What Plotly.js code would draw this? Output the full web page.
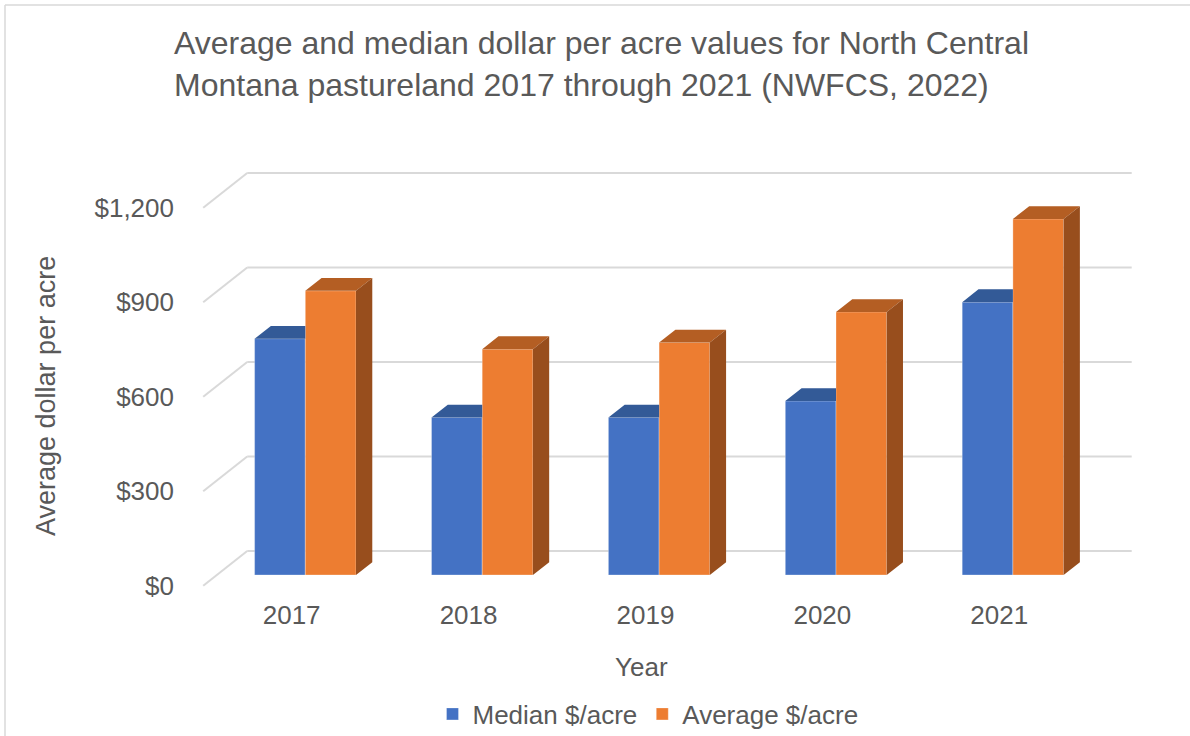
<!DOCTYPE html>
<html>
<head>
<meta charset="utf-8">
<script src="https://cdn.plot.ly/plotly-3.0.1.min.js"></script>
<style>
  html, body { margin: 0; padding: 0; background: #fff; }
  #chart { width: 1190px; height: 736px; }
</style>
</head>
<body>
<div id="chart"></div>
<script>
// data
const years = ["2017", "2018", "2019", "2020", "2021"];
const median = [750, 500, 500, 552, 866];
const average = [902, 717, 738, 835, 1130];
const yTicks = [0, 300, 600, 900, 1200];

// fake 3D: oblique projection, everything expressed in the bar front plane
const W = 1190, H = 736;
const L = 190, R = 1150, T = 140, B = 597;  // plot area in px
const unitPx = 176.9;      // px per category
const dollarPx = 0.315;    // px per dollar
const originX = 305.3, originY = 575;  // category 0 / $0 on bar front face
const depthX = 44, depthY = 34.7;      // floor depth in px
const barFront = 0.31, barBack = 0.68; // bar position in depth (0 front, 1 back)
const barW = 50.7 / unitPx;

function sx(t) { return (t - barFront) * depthX / unitPx; }
function sy(t) { return (t - barFront) * depthY / dollarPx; }
function P(xc, v, t) { return [xc + sx(t), v + sy(t)]; }
function px2paperX(px) { return (px - L) / (R - L); }
function px2paperY(py) { return (B - py) / (B - T); }

let idx = years.map((y, i) => i);
let ddx = sx(barBack) - sx(barFront);
let ddy = sy(barBack) - sy(barFront);

// median tops, clipped where the average bar stands in front
let medTopX = [], medTopY = [];
idx.forEach(i => {
  let x0 = i - barW, x1 = i, v = median[i];
  medTopX.push(x0, x1, x1, x0 + ddx, x0, null);
  medTopY.push(v, v, v + ddy, v + ddy, v, null);
});

let avgTopX = [], avgTopY = [], avgSideX = [], avgSideY = [];
idx.forEach(i => {
  let x0 = i, x1 = i + barW, v = average[i];
  avgTopX.push(x0, x1, x1 + ddx, x0 + ddx, x0, null);
  avgTopY.push(v, v, v + ddy, v + ddy, v, null);
  avgSideX.push(x1, x1, x1 + ddx, x1 + ddx, x1, null);
  avgSideY.push(0, v, v + ddy, ddy, 0, null);
});

let traces = [
  {
    type: "bar", name: "Median $/acre", x: idx, y: median,
    width: barW, offset: -barW,
    marker: { color: "#4472C4", line: { color: "rgba(255,255,255,0.5)", width: 0.6 } },
    hovertemplate: "%{y}<extra></extra>"
  },
  {
    type: "bar", name: "Average $/acre", x: idx, y: average,
    width: barW, offset: 0,
    marker: { color: "#ED7D31", line: { color: "rgba(255,255,255,0.5)", width: 0.6 } },
    hovertemplate: "%{y}<extra></extra>"
  },
  {
    type: "scatter", mode: "lines", x: medTopX, y: medTopY, fill: "toself",
    fillcolor: "#335A97", line: { width: 0 }, showlegend: false, hoverinfo: "skip"
  },
  {
    type: "scatter", mode: "lines", x: avgTopX, y: avgTopY, fill: "toself",
    fillcolor: "#B45E23", line: { width: 0 }, showlegend: false, hoverinfo: "skip"
  },
  {
    type: "scatter", mode: "lines", x: avgSideX, y: avgSideY, fill: "toself",
    fillcolor: "#984E1D", line: { width: 0 }, showlegend: false, hoverinfo: "skip"
  }
];

// back wall gridlines and side wall diagonals
let shapes = [];
yTicks.forEach(v => {
  let a = P(-0.5, v, 0), b = P(-0.5, v, 1), c = P(years.length - 0.5, v, 1);
  shapes.push({ type: "line", layer: "below", xref: "x", yref: "y",
    x0: a[0], y0: a[1], x1: b[0], y1: b[1], line: { color: "#D9D9D9", width: 2 } });
  shapes.push({ type: "line", layer: "below", xref: "x", yref: "y",
    x0: b[0], y0: b[1], x1: c[0], y1: c[1], line: { color: "#D9D9D9", width: 2 } });
});
// chart border, only the left and top edges are in the picture
shapes.push({ type: "line", xref: "paper", yref: "paper",
  x0: px2paperX(5), x1: px2paperX(5), y0: px2paperY(745), y1: px2paperY(5),
  line: { color: "#D9D9D9", width: 1.5 } });
shapes.push({ type: "line", xref: "paper", yref: "paper",
  x0: px2paperX(5), x1: px2paperX(1200), y0: px2paperY(5), y1: px2paperY(5),
  line: { color: "#D9D9D9", width: 1.5 } });

const font = "Liberation Sans, Arial, sans-serif";
const grey = "#595959";

let layout = {
  width: W, height: H,
  margin: { l: L, r: W - R, t: T, b: H - B, pad: 0 },
  paper_bgcolor: "#fff", plot_bgcolor: "rgba(0,0,0,0)",
  font: { family: font, size: 26, color: grey },
  title: {
    text: "Average and median dollar per acre values for North Central<br>Montana pastureland 2017 through 2021 (NWFCS, 2022)",
    xref: "container", yref: "container", x: 174 / W, xanchor: "left",
    y: 1 - 54 / H, yanchor: "top",
    font: { family: font, size: 32, color: grey }
  },
  barmode: "overlay",
  xaxis: {
    range: [(L - originX) / unitPx, (R - originX) / unitPx],
    tickvals: idx.map(i => P(i, 0, 0)[0]), ticktext: years,
    showgrid: false, zeroline: false, showline: false, ticks: "",
    tickfont: { size: 26, color: grey }, fixedrange: true
  },
  yaxis: {
    range: [(originY - B) / dollarPx, (originY - T) / dollarPx],
    tickvals: yTicks.map(v => P(-0.5, v, 0)[1]),
    ticktext: yTicks.map(v => "$" + v.toLocaleString("en-US")),
    showgrid: false, zeroline: false, showline: false, ticks: "",
    ticklabelstandoff: 15,
    tickfont: { size: 26, color: grey }, fixedrange: true
  },
  annotations: [
    { text: "Average dollar per acre", xref: "paper", yref: "paper",
      x: px2paperX(46), y: px2paperY(396), xanchor: "center", yanchor: "middle",
      textangle: -90, showarrow: false,
      font: { size: 27, color: grey } },
    { text: "Year", xref: "paper", yref: "paper",
      x: px2paperX(641), y: px2paperY(667), xanchor: "center", yanchor: "middle",
      showarrow: false,
      font: { size: 26, color: grey } }
  ],
  legend: {
    orientation: "h", xref: "container", yref: "container",
    x: 648 / W, xanchor: "center", y: 1 - 714 / H, yanchor: "middle",
    font: { size: 26, color: grey }, bgcolor: "rgba(0,0,0,0)"
  },
  shapes: shapes,
  showlegend: true
};

Plotly.newPlot("chart", traces, layout, { displayModeBar: false, staticPlot: true });
</script>
</body>
</html>
